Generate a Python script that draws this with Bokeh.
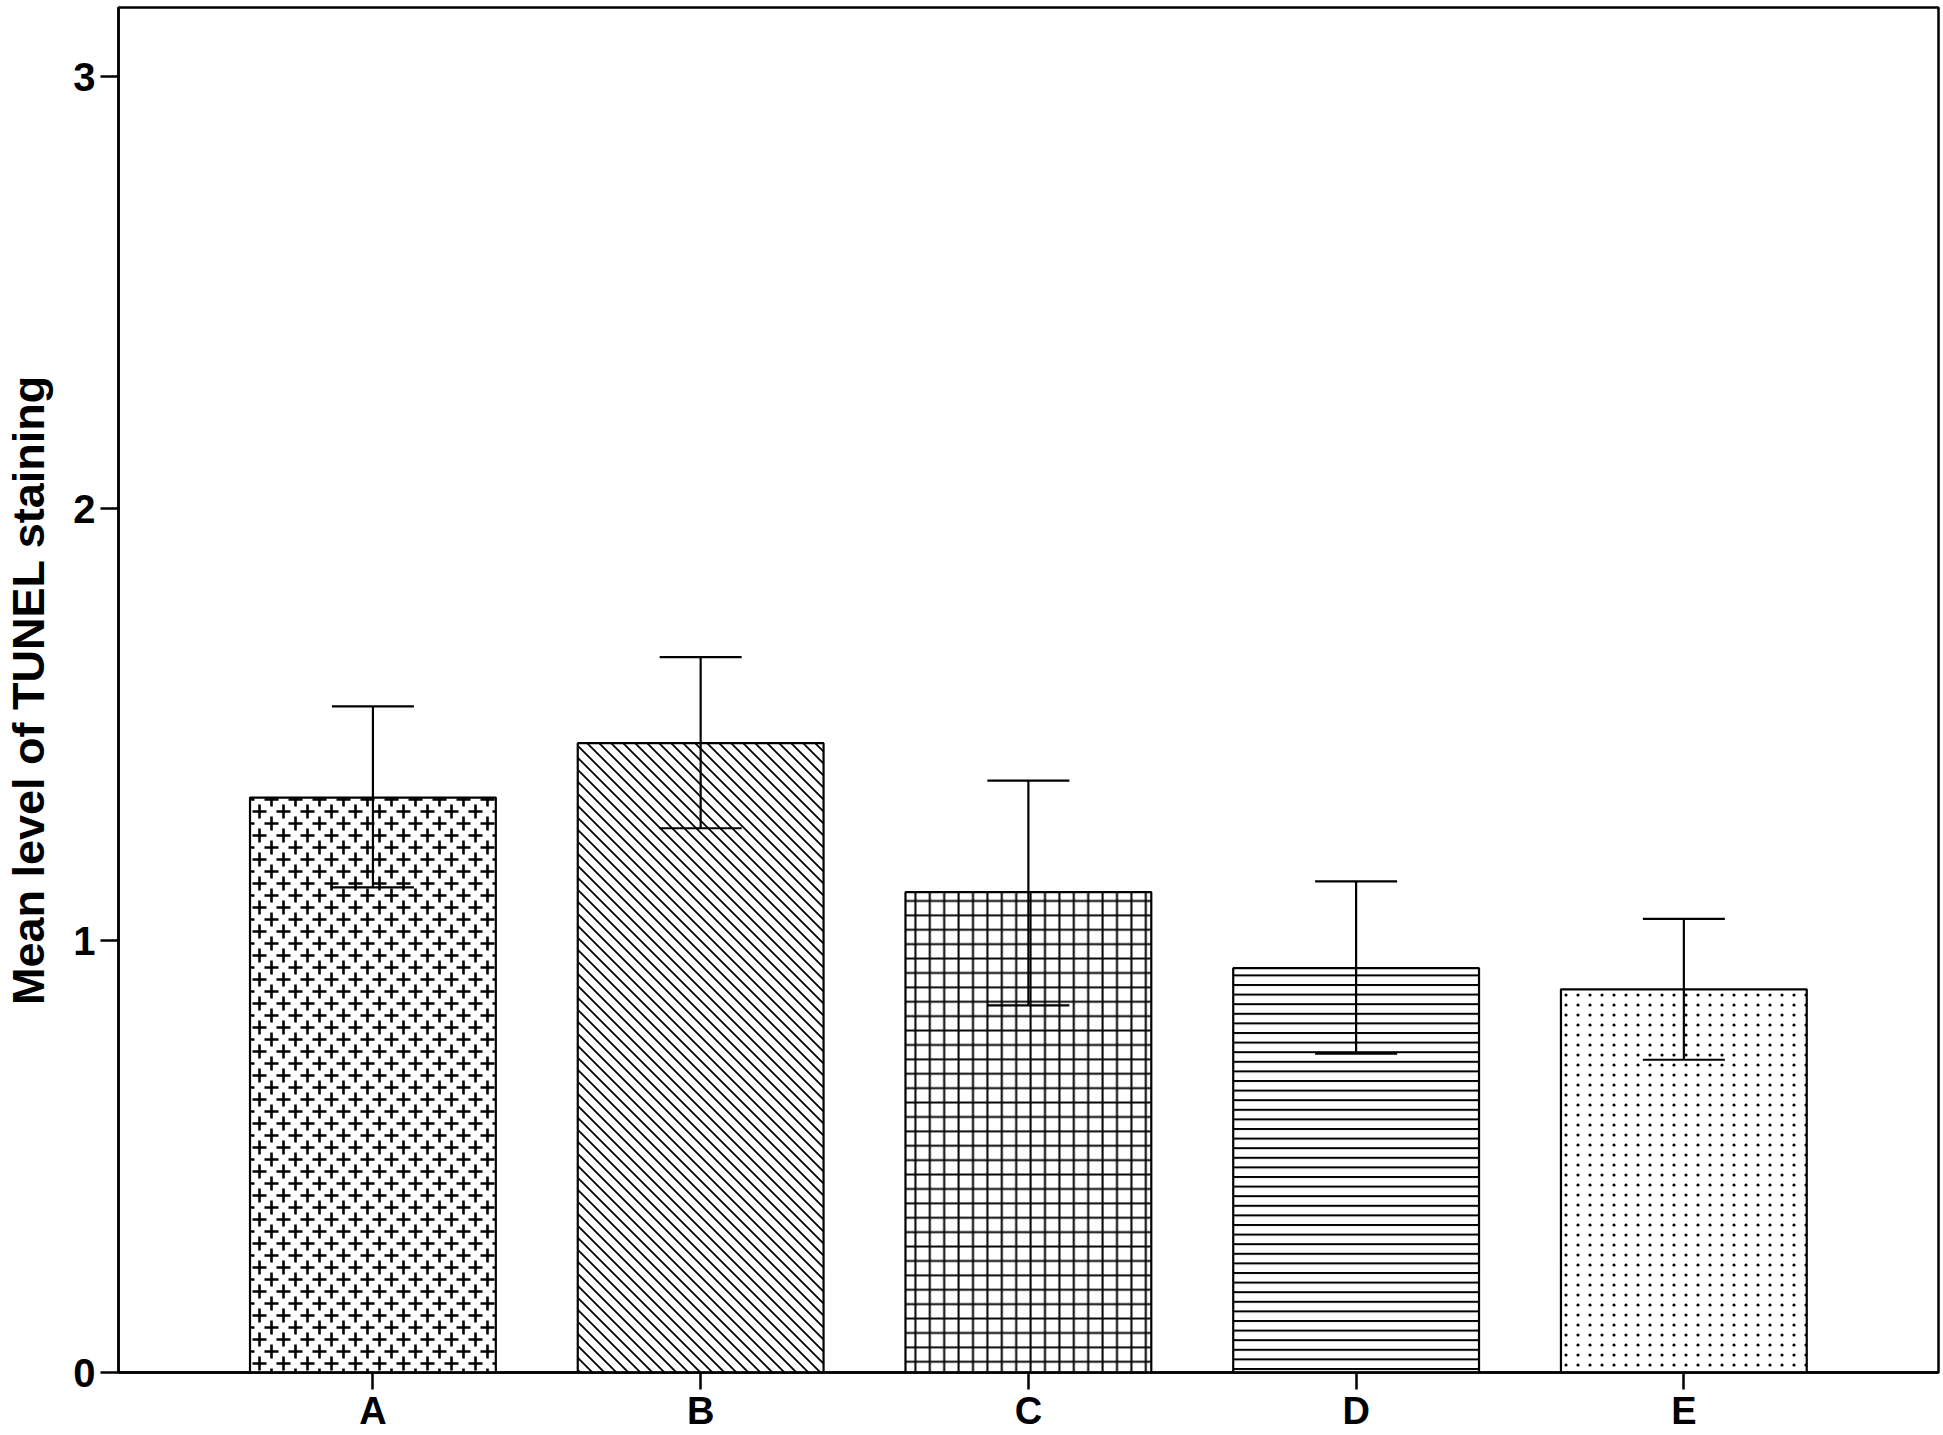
from bokeh.plotting import figure
from bokeh.models import ColumnDataSource, Whisker, CanvasTexture, Range1d, TeeHead, FixedTicker
from bokeh.core.properties import value
from bokeh.embed import file_html
from bokeh.resources import INLINE

# ---- data ----
groups = ["A", "B", "C", "D", "E"]
positions = [1, 2, 3, 4, 5]
means = [1.331, 1.457, 1.112, 0.936, 0.887]
upper = [1.542, 1.656, 1.370, 1.137, 1.050]
lower = [1.123, 1.260, 0.850, 0.738, 0.724]
y_ticks = [0, 1, 2, 3]
y_label = "Mean level of TUNEL staining"

FONT = "Liberation Sans"

# ---- textures: the tile canvas is resized to D x D px inside the texture code ----
def tex(D, body):
    return CanvasTexture(code=(
        "const D = %d; const c = ctx.canvas; c.width = D; c.height = D;"
        "ctx.setTransform(1, 0, 0, 1, 0, 0);" % D) + body)

plus_tex = tex(24, """
ctx.strokeStyle = 'black'; ctx.lineWidth = 2.6; ctx.lineCap = 'butt';
ctx.beginPath();
const cs = [[7.5, 7.5], [19.5, 19.5]];
for (const [cx, cy] of cs) {
  for (const dx of [-24, 0, 24]) {
    for (const dy of [-24, 0, 24]) {
      const x = cx + dx, y = cy + dy;
      ctx.moveTo(x - 7, y); ctx.lineTo(x + 7, y);
      ctx.moveTo(x, y - 7); ctx.lineTo(x, y + 7);
    }
  }
}
ctx.stroke();
""")
diag_tex = tex(12, """
ctx.strokeStyle = 'black'; ctx.lineWidth = 1.8;
ctx.beginPath();
ctx.moveTo(-3,-3); ctx.lineTo(15,15);
ctx.moveTo(-3,9); ctx.lineTo(3,15);
ctx.moveTo(9,-3); ctx.lineTo(15,3);
ctx.stroke();
""")
dot_tex = tex(60, """
ctx.fillStyle = 'black';
for (let i = 0; i < 5; i++) {
  for (let j = 0; j < 6; j++) {
    ctx.beginPath();
    ctx.arc(6 + 12*i, 5 + 10*j, 1.6, 0, 2*Math.PI);
    ctx.fill();
  }
}
""")

styles = [
    dict(hatch_pattern=value("plus"), hatch_extra={"plus": plus_tex}, hatch_scale=24),
    dict(hatch_pattern=value("bdiag"), hatch_extra={"bdiag": diag_tex}, hatch_scale=12),
    dict(hatch_pattern="cross", hatch_scale=14.4, hatch_weight=2),
    dict(hatch_pattern="horizontal_line", hatch_scale=9.6, hatch_weight=2),
    dict(hatch_pattern=value("dots"), hatch_extra={"dots": dot_tex}, hatch_scale=60),
]

p = figure(
    width=1940, height=1435,
    output_backend="svg", toolbar_location=None,
    x_range=Range1d(0.2237, 5.777),
    y_range=Range1d(0, 3.16),
    min_border_left=116, min_border_right=2, min_border_top=7, min_border_bottom=63,
)
p.background_fill_color = "white"
p.border_fill_color = "white"
p.outline_line_color = "black"
p.outline_line_width = 2.5
p.xgrid.visible = False
p.ygrid.visible = False

for i in range(len(groups)):
    p.vbar(x=[positions[i]], top=[means[i]], bottom=0, width=0.75,
           fill_color="white", line_color="black", line_width=2.2,
           hatch_color="black", **styles[i])

src = ColumnDataSource(dict(x=positions, upper=upper, lower=lower))
wh = Whisker(source=src, base="x", upper="upper", lower="lower",
             line_color="black", line_width=2.2, level="annotation",
             upper_head=TeeHead(size=82, line_width=2.2, line_color="black"),
             lower_head=TeeHead(size=82, line_width=2.2, line_color="black"))
p.add_layout(wh)

# axes
for ax in (p.xaxis[0], p.yaxis[0]):
    ax.axis_line_width = 2.5
    ax.axis_line_color = "black"
    ax.major_tick_line_width = 2.5
    ax.major_tick_line_color = "black"
    ax.major_tick_in = 0
    ax.minor_tick_line_color = None
    ax.major_label_text_font = FONT
    ax.major_label_text_font_style = "bold"
    ax.major_label_text_color = "black"

p.xaxis.ticker = FixedTicker(ticks=positions)
p.xaxis.major_label_overrides = {pos: g for pos, g in zip(positions, groups)}
p.xaxis.major_tick_out = 17
p.xaxis.major_label_standoff = 0
p.xaxis.major_label_text_font_size = "38px"

p.yaxis.ticker = FixedTicker(ticks=y_ticks)
p.yaxis.major_tick_out = 18
p.yaxis.major_label_standoff = 5
p.yaxis.major_label_text_font_size = "40px"
p.yaxis.axis_label = y_label
p.yaxis.axis_label_text_font = FONT
p.yaxis.axis_label_text_font_style = "bold"
p.yaxis.axis_label_text_font_size = "45px"
p.yaxis.axis_label_text_color = "black"
p.yaxis.axis_label_standoff = 16

open("out.html", "w").write(file_html(p, INLINE))
